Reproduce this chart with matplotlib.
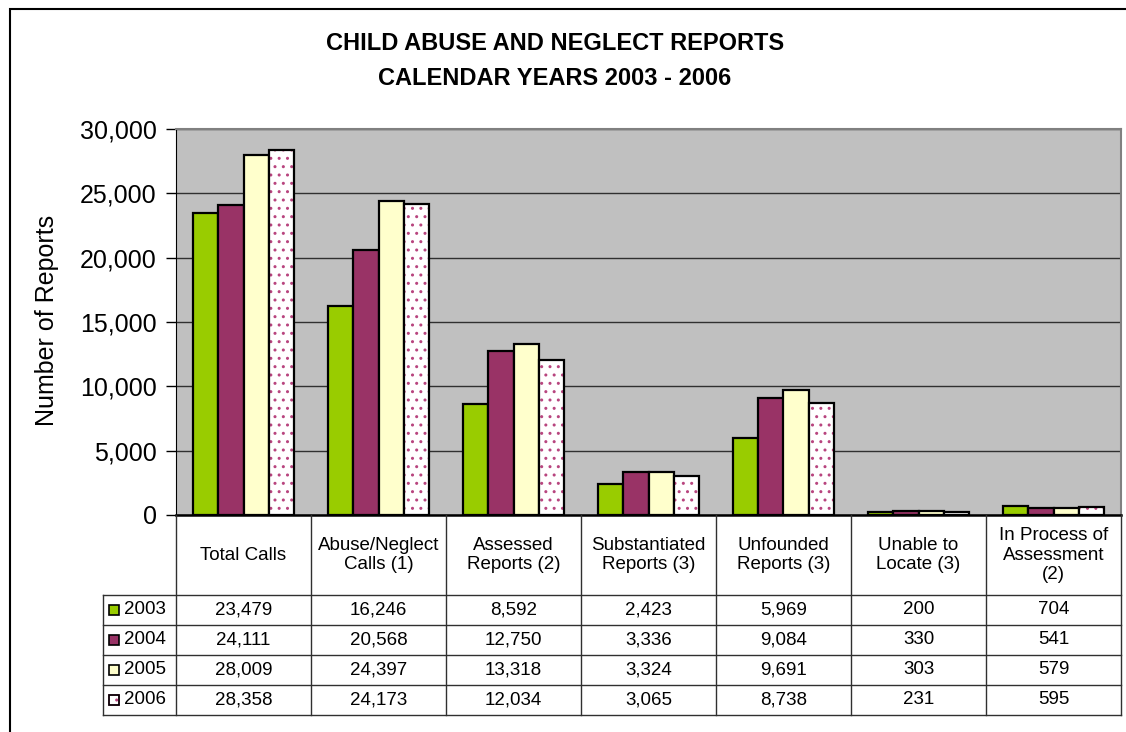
import numpy as np
import matplotlib.pyplot as plt
from matplotlib.patches import Rectangle

plt.rcParams['font.family'] = ['Liberation Sans', 'DejaVu Sans']

categories = ['Total Calls', 'Abuse/Neglect\nCalls (1)', 'Assessed\nReports (2)',
              'Substantiated\nReports (3)', 'Unfounded\nReports (3)',
              'Unable to\nLocate (3)', 'In Process of\nAssessment\n(2)']
years = ['2003', '2004', '2005', '2006']
v2003 = [23479, 16246, 8592, 2423, 5969, 200, 704]
v2004 = [24111, 20568, 12750, 3336, 9084, 330, 541]
v2005 = [28009, 24397, 13318, 3324, 9691, 303, 579]
v2006 = [28358, 24173, 12034, 3065, 8738, 231, 595]
series = [v2003, v2004, v2005, v2006]
colors = ['#99CC00', '#993366', '#FFFFCC', 'white']
yticks = [0, 5000, 10000, 15000, 20000, 25000, 30000]

W, H = 1126, 732
fig = plt.figure(figsize=(W / 100, H / 100), dpi=100)


def px(x0, y0, x1, y1):
    # pixel box (top-left origin) -> figure rect
    return [x0 / W, 1 - y1 / H, (x1 - x0) / W, (y1 - y0) / H]


# chart border (runs off the right and bottom edge)
fig.add_artist(Rectangle((10 / W, -0.05), 1.2, 1 - 9 / H + 0.05,
                         transform=fig.transFigure, fill=False,
                         edgecolor='black', linewidth=1.5))

fig.text(555 / W, 1 - 44 / H, 'CHILD ABUSE AND NEGLECT REPORTS',
         ha='center', va='center', fontsize=17, fontweight='bold')
fig.text(555 / W, 1 - 78.5 / H, 'CALENDAR YEARS 2003 - 2006',
         ha='center', va='center', fontsize=17, fontweight='bold')
fig.text(47 / W, 1 - 320 / H, 'Number of Reports', rotation=90,
         ha='center', va='center', fontsize=18)

ax = fig.add_axes(px(176, 129, 1121, 515))
ax.set_facecolor('#C0C0C0')
x = np.arange(len(categories))
bw = 0.187
for i, (vals, c) in enumerate(zip(series, colors)):
    pos = x + (i - 1.5) * bw
    if i == 3:
        ax.bar(pos, vals, bw, color='white', edgecolor='#B8457F', hatch='..',
               linewidth=0, zorder=3)
        ax.bar(pos, vals, bw, fill=False, edgecolor='black', linewidth=1.6, zorder=4)
    else:
        ax.bar(pos, vals, bw, color=c, edgecolor='black', linewidth=1.6, zorder=3)

ax.set_xlim(-0.5, 6.5)
ax.set_ylim(0, 30000)
ax.set_yticks(yticks)
ax.set_yticklabels([f'{v:,}' for v in yticks], fontsize=18)
ax.set_xticks([])
ax.yaxis.grid(True, color='#303030', linewidth=1)
ax.set_axisbelow(True)
ax.tick_params(axis='y', direction='out', length=7, width=1, pad=7)
ax.spines['left'].set_color('black')
ax.spines['bottom'].set_color('black')
ax.spines['bottom'].set_linewidth(1.8)
ax.spines['bottom'].set_zorder(5)
for s in ['top', 'right']:
    ax.spines[s].set_color('#808080')
    ax.spines[s].set_linewidth(1.5)

# data table below the plot
tax = fig.add_axes(px(103, 515, 1121, 715))
xl = -0.5 - 73 / 135
tax.set_xlim(xl, 6.5)
tax.set_ylim(200, 0)
tax.axis('off')
lc = '#303030'
for k in range(len(categories) + 1):
    tax.plot([k - 0.5, k - 0.5], [0, 200], color=lc, lw=1, clip_on=False)
tax.plot([xl, xl], [80, 200], color=lc, lw=1, clip_on=False)
for yy in [80, 110, 140, 170, 200]:
    tax.plot([xl, 6.5], [yy, yy], color=lc, lw=1, clip_on=False)

for k, cat in enumerate(categories):
    tax.text(k, 40, cat, ha='center', va='center', fontsize=13.5, linespacing=1.2)

for r, (yr, vals, c) in enumerate(zip(years, series, colors)):
    yc = 95 + 30 * r
    sq = Rectangle((xl + 6 / 135, yc - 5), 10 / 135, 10, facecolor=c,
                   edgecolor='black', linewidth=1.2, clip_on=False)
    if r == 3:
        sq.set_hatch('..')
        sq.set_edgecolor('#B8457F')
        tax.add_patch(sq)
        sq = Rectangle((xl + 6 / 135, yc - 5), 10 / 135, 10, fill=False,
                       edgecolor='black', linewidth=1.2, clip_on=False)
    tax.add_patch(sq)
    tax.text(xl + 21 / 135, yc, yr, ha='left', va='center', fontsize=13.5)
    for k, v in enumerate(vals):
        tax.text(k, yc, f'{v:,}', ha='center', va='center', fontsize=13.5)

fig.savefig('out.png', dpi=100)
